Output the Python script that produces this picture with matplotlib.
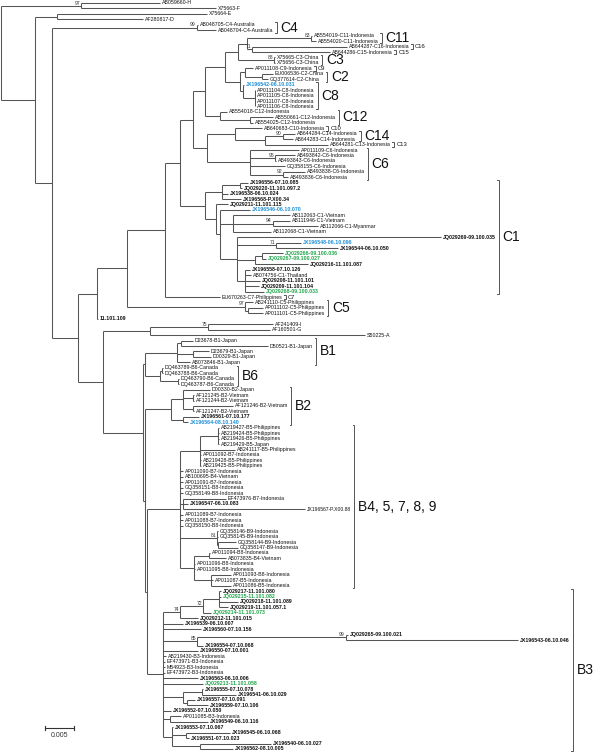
import matplotlib
matplotlib.use("Agg")
import matplotlib.pyplot as plt
from matplotlib.collections import LineCollection

# ------------------------------------------------------------------ data
# Branch lengths are in substitutions per 1000 sites; internal labels = bootstrap (%)
UPPER_C = (
    "((((((AB554019-C11-Indonesia:0.18,AB554020-C11-Indonesia:0.88)83:11.29,"
    "(AB644287-C16-Indonesia:16.76,AB644286-C15-Indonesia:13.76)71:0.88):1.59,"
    "(X75665-C3-China:0.18,X75656-C3-China:0.18)88:6.35):2.29,"
    "((AP011108-C9-Indonesia:1.41,(EU006536-C2-China:1.94,GQ377614-C2-China:1.06):3.00):0.88,"
    "(JX196542-06.10.031:0.18,(AP011104-C8-Indonesia:0.02,AP011105-C8-Indonesia:0.02,"
    "AP011107-C8-Indonesia:0.02,AP011106-C8-Indonesia:0.02):2.12):0.53):2.65):3.53,"
    "(AB554018-C12-Indonesia:1.23,(AB550661-C12-Indonesia:4.06,AB554025-C12-Indonesia:0.53):5.29):2.65):2.12,"
    "((AB640683-C10-Indonesia:4.76,((AB644284-C14-Indonesia:2.12,AB644283-C14-Indonesia:1.76)90:3.17,"
    "AB644281-C13-Indonesia:11.11):5.29):4.94,"
    "(AP011109-C6-Indonesia:8.64,(AB493842-C6-Indonesia:3.53,AB493843-C6-Indonesia:0.18)95:4.41,"
    "GQ358155-C6-Indonesia:6.17,(AB493838-C6-Indonesia:3.88,AB493836-C6-Indonesia:0.88)92:5.82):7.58):2.47)"
)

C1_CLADE = (
    "(((JX196556-07.10.085:1.41,JQ029220-11.101.097.2:0.35):3.17,JX196538-06.10.024:1.06,"
    "JX196568-P.X00.34:3.35):3.00,"
    "(JQ029211-11.101.115:2.12,(JX196546-06.10.070:5.29,"
    "(AB112063-C1-Vietnam:10.05,(AB111946-C1-Vietnam:3.00,AB112066-C1-Myanmar:7.94)94:7.05,"
    "AB112068-C1-Vietnam:6.70):2.29,"
    "(JQ029269-09.100.035:35.98,(JX196548-06.10.096:4.41,JX196544-06.10.050:10.93)71:6.88,"
    "((JQ029266-09.100.036:3.70,JQ029267-09.100.027:0.71):1.23,JQ029216-11.101.087:9.35):3.17,"
    "(JX196558-07.10.126:0.88,AB074756-C1-Thailand:1.06,JQ029208-11.101.101:2.65,"
    "JQ029209-11.101.104:2.47,JQ029268-09.100.033:3.35):1.41"
    "):3.00):0.71):1.94)"
)

B49_CLADE = (
    "(((AB219427-B5-Philippines:0.18,AB219424-B5-Philippines:0.18,AB219426-B5-Philippines:0.18,"
    "AB219429-B5-Japan:0.18):3.17,AB241117-B5-Philippines:6.17,AP011092-B7-Indonesia:0.18,"
    "AB219428-B5-Philippines:0.18,AB219425-B5-Philippines:0.18):3.53,"
    "AP011090-B7-Indonesia:0.53,AB100695-B4-Vietnam:0.53,AP011091-B7-Indonesia:0.53,"
    "GQ358151-B8-Indonesia:0.53,GQ358149-B8-Indonesia:0.53,"
    "(EF473976-B7-Indonesia:7.58,JX196547-06.10.083:0.88,JX196567-P.X00.88:21.52):0.53,"
    "AP011089-B7-Indonesia:0.53,AP011088-B7-Indonesia:0.53,GQ358150-B8-Indonesia:0.53,"
    "(GQ358146-B9-Indonesia:0.18,GQ358145-B9-Indonesia:0.18,"
    "(GQ358144-B9-Indonesia:3.17,GQ358147-B9-Indonesia:3.53):0.18)81:6.53,"
    "((AP011094-B8-Indonesia:0.18,AB073835-B4-Vietnam:3.00):2.65,AP011096-B8-Indonesia:0.18,"
    "AP011095-B8-Indonesia:0.18,(AP011093-B8-Indonesia:3.53,AP011087-B5-Indonesia:0.35,"
    "AP011086-B5-Indonesia:3.53):3.00):2.47)"
)

B3_CLADE = (
    "((((JQ029217-11.101.080:0.35,JQ029215-11.101.082:0.35,JQ029218-11.101.089:3.35,"
    "JQ029219-11.101.057.1:1.59):2.82,JQ029214-11.101.073:1.41)72:4.06,JQ029212-11.101.015:3.17)74:3.00,"
    "JX196539-06.10.007:3.53,JX196560-07.10.156:6.70,"
    "((JQ029265-09.100.021:0.35,JX196543-06.10.046:30.34)99:26.28,JX196554-07.10.068:1.06)85:6.00,"
    "JX196550-07.10.001:6.17,AB219430-B3-Indonesia:0.53,EF473971-B3-Indonesia:0.35,"
    "M54923-B3-Indonesia:0.35,EF473972-B3-Indonesia:0.35,"
    "JX196563-06.10.006:6.17,JQ029213-11.101.058:7.05,"
    "((JX196555-07.10.078:0.18,JX196541-06.10.029:6.00):3.35,"
    "(JX196557-07.10.091:1.41,JX196559-07.10.106:3.70):0.71):3.53,"
    "JX196552-07.10.050:1.41,(AP011085-B3-Indonesia:1.94,JX196549-06.10.116:6.70):1.23,"
    "(JX196553-07.10.067:0.18,(JX196545-06.10.068:7.76,JX196551-07.10.023:0.53):2.47,"
    "(JX196540-06.10.027:12.52,JX196562-08.10.005:5.82):4.94):1.59)"
)

B_CLADE = (
    "((((D23678-B1-Japan:2.12,D50521-B1-Japan:15.34):0.71,"
    "(D23679-B1-Japan:2.82,D00329-B1-Japan:3.17):2.82,AB073846-B1-Japan:2.29):5.64,"
    "((DQ463789-B6-Canada:0.18,DQ463788-B6-Canada:0.18):0.35,"
    "(DQ463790-B6-Canada:0.18,DQ463787-B6-Canada:0.18):3.17):2.65):0.35,"
    "(((D00330-B2-Japan:4.76,(AF121245-B2-Vietnam:0.18,AF121244-B2-Vietnam:0.18):1.76,"
    "(AF121246-B2-Vietnam:7.05,AF121247-B2-Vietnam:0.18):1.76):2.12,"
    "(JX196561-07.10.177:2.82,JX196564-08.10.140:0.88):2.12):4.59,"
    "(" + B49_CLADE + ":5.82," + B3_CLADE + ":2.82):0.35):0.35)"
)

TREE_NEWICK = (
    "((AB059660-H:13.94,X75663-F:23.81)97:14.11,"
    "((X75664-E:26.46,AF280817-D:15.17):3.88,"
    "((AB048705-C4-Australia:0.18,AB048704-C4-Australia:3.35)99:25.58,"
    "(((((" + UPPER_C + ":2.29," + C1_CLADE + ":4.41):2.65,EU670263-C7-Philippines:9.70):6.70,"
    "(AB241110-C5-Philippines:1.41,(AP011102-C5-Philippines:2.65,AP011101-C5-Philippines:2.65):0.53)97:20.81):5.29,"
    "11.101.109:0.18):3.35,"
    "(((AF241409-I:11.47,AF160501-G:10.94)75:10.23,S50225-A:37.93):8.29," + B_CLADE + ":7.06):4.41"
    "):4.59):3.00):6.00);"
)
BRANCH_UNIT = 1e-3

BLUE_SEQS = ["JX196542-06.10.031", "JX196546-06.10.070", "JX196548-06.10.096", "JX196564-08.10.140"]
GREEN_SEQS = ["JQ029266-09.100.036", "JQ029267-09.100.027", "JQ029268-09.100.033",
              "JQ029215-11.101.082", "JQ029214-11.101.073", "JQ029213-11.101.058"]
STUDY_PREFIXES = ("JX", "JQ", "11.")
PLAIN_STUDY = ["JX196567-P.X00.88"]

# (label, first leaf, last leaf, large font?)
CLADES = [
    ("C4", "AB048705-C4-Australia", "AB048704-C4-Australia", True),
    ("C11", "AB554019-C11-Indonesia", "AB554020-C11-Indonesia", True),
    ("C16", "AB644287-C16-Indonesia", "AB644287-C16-Indonesia", False),
    ("C15", "AB644286-C15-Indonesia", "AB644286-C15-Indonesia", False),
    ("C3", "X75665-C3-China", "X75656-C3-China", True),
    ("C9", "AP011108-C9-Indonesia", "AP011108-C9-Indonesia", False),
    ("C2", "EU006536-C2-China", "GQ377614-C2-China", True),
    ("C8", "JX196542-06.10.031", "AP011106-C8-Indonesia", True),
    ("C12", "AB554018-C12-Indonesia", "AB554025-C12-Indonesia", True),
    ("C10", "AB640683-C10-Indonesia", "AB640683-C10-Indonesia", False),
    ("C14", "AB644284-C14-Indonesia", "AB644283-C14-Indonesia", True),
    ("C13", "AB644281-C13-Indonesia", "AB644281-C13-Indonesia", False),
    ("C6", "AP011109-C6-Indonesia", "AB493836-C6-Indonesia", True),
    ("C1", "JX196556-07.10.085", "JQ029268-09.100.033", True),
    ("C7", "EU670263-C7-Philippines", "EU670263-C7-Philippines", False),
    ("C5", "AB241110-C5-Philippines", "AP011101-C5-Philippines", True),
    ("B1", "D23678-B1-Japan", "AB073846-B1-Japan", True),
    ("B6", "DQ463789-B6-Canada", "DQ463787-B6-Canada", True),
    ("B2", "D00330-B2-Japan", "JX196564-08.10.140", True),
    ("B4, 5, 7, 8, 9", "AB219427-B5-Philippines", "AP011086-B5-Indonesia", True),
    ("B3", "JQ029217-11.101.080", "JX196562-08.10.005", True),
]
SCALE_BAR = 0.005

# ------------------------------------------------------------------ parse & layout
def parse_newick(s):
    s = "".join(s.split())
    pos = 0

    def node():
        nonlocal pos
        n = {"children": [], "name": "", "length": 0.0}
        if s[pos] == "(":
            pos += 1
            while True:
                n["children"].append(node())
                if s[pos] == ",":
                    pos += 1
                    continue
                pos += 1  # ')'
                break
        start = pos
        while pos < len(s) and s[pos] not in ",():;":
            pos += 1
        n["name"] = s[start:pos]
        if pos < len(s) and s[pos] == ":":
            pos += 1
            start = pos
            while pos < len(s) and s[pos] not in ",();":
                pos += 1
            n["length"] = float(s[start:pos])
        return n

    return node()


root = parse_newick(TREE_NEWICK)
leaves = []
internals = []


def layout(n, x):
    n["x"] = x
    if not n["children"]:
        n["y"] = len(leaves)
        leaves.append(n)
    else:
        for c in n["children"]:
            layout(c, x + c["length"] * BRANCH_UNIT)
        n["y"] = (n["children"][0]["y"] + n["children"][-1]["y"]) / 2.0
        internals.append(n)


layout(root, 0.0)
nleaf = len(leaves)

# ------------------------------------------------------------------ draw
W, H = 600, 752
fig = plt.figure(figsize=(W / 100, H / 100), dpi=100)
ax = fig.add_axes([0, 0, 1, 1])
ax.axis("off")
ax.set_xlim(-0.000176, 0.10564)
step = 746.0 / (nleaf - 1)
ax.set_ylim((H - 3) / step, -3 / step)

LINE = "#555555"
segs = []
for n in internals:
    ys = [c["y"] for c in n["children"]]
    segs.append([(n["x"], min(ys)), (n["x"], max(ys))])
    for c in n["children"]:
        segs.append([(n["x"], c["y"]), (c["x"], c["y"])])
ax.add_collection(LineCollection(segs, colors=LINE, linewidths=0.75, capstyle="butt"))

FONT = "Liberation Sans"
texts = {}
for lf in leaves:
    name = lf["name"]
    bold = name.startswith(STUDY_PREFIXES) and name not in PLAIN_STUDY
    color = "#1f8fd8" if name in BLUE_SEQS else ("#1fa64a" if name in GREEN_SEQS else "#111111")
    t = ax.annotate(name, (lf["x"], lf["y"]), xytext=(1.4, 0), textcoords="offset points",
                    fontsize=3.8 if name not in PLAIN_STUDY else 3.6, family=FONT,
                    fontweight="bold" if bold else "normal",
                    color=color, va="center", ha="left")
    texts[name] = t

for n in internals:
    if n["name"]:
        ax.annotate(n["name"], (n["x"], n["y"]), xytext=(-0.8, 0.1), textcoords="offset points",
                    fontsize=3.6, family=FONT, color="#333333", ha="right", va="bottom")

# clade brackets
fig.canvas.draw()
rend = fig.canvas.get_renderer()
inv = ax.transData.inverted()
leaf_index = {lf["name"]: i for i, lf in enumerate(leaves)}
for label, first, last, big in CLADES:
    i0, i1 = leaf_index[first], leaf_index[last]
    right = max(texts[leaves[i]["name"]].get_window_extent(rend).x1 for i in range(i0, i1 + 1))
    bx = inv.transform((right + 3, 0))[0]
    tick = inv.transform((right + 1.5, 0))[0]
    y0, y1 = i0 - 0.42, i1 + 0.42
    ax.plot([tick, bx, bx, tick], [y0, y0, y1, y1], color="#555555", lw=0.7,
            solid_joinstyle="miter")
    ax.annotate(label, (bx, (y0 + y1) / 2), xytext=(2.6 if big else 1.8, 0),
                textcoords="offset points", fontsize=10 if big else 4.2, family=FONT,
                va="center", ha="left", color="#111111")

# scale bar
sx0, sy = 0.0078, 133.1
ax.plot([sx0, sx0 + SCALE_BAR], [sy, sy], color="#333333", lw=0.8)
for xx in (sx0, sx0 + SCALE_BAR):
    ax.plot([xx, xx], [sy - 0.35, sy + 0.35], color="#333333", lw=0.8)
ax.text(sx0 + SCALE_BAR / 2, sy + 1.5, "0.005", fontsize=5, family=FONT,
        ha="center", va="center", color="#333333")

fig.savefig("out.png", dpi=100)
